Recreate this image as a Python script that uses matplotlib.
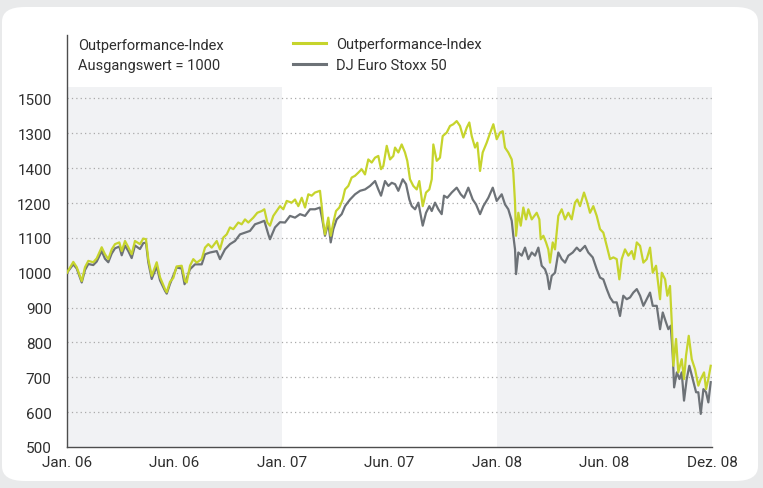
import pandas as pd
import matplotlib.pyplot as plt
from matplotlib.patches import FancyBboxPatch

plt.rcParams['font.family'] = ['Roboto', 'DejaVu Sans']

# days since 1 Jan 2006 and index values
outperf_days = [0, 10.7, 16.5, 25, 30.6, 36.2, 44.6, 50.4, 58.9, 64.5, 70.1, 75.9, 81.5, 88.8, 92.9,
                98.5, 104.1, 109.8, 115.4, 123.9, 129.5, 134.1, 138, 143.8, 152.3, 157.9, 166.4, 169.3,
                174.9, 180.5, 186.1, 194.7, 200.3, 203.2, 208.8, 214.4, 220.2, 228.7, 234.3, 239.9,
                245.7, 254.2, 259.7, 265.4, 271.1, 276.7, 282.3, 290.8, 296.6, 302.2, 307.8, 316.3,
                323.1, 330.6, 335, 340.1, 344.6, 350.2, 356, 361.6, 367.2, 373, 381.5, 387.1, 392.7,
                398.5, 404.1, 409.7, 415.4, 421, 429.5, 432.4, 435.1, 438, 443.6, 447.7, 452.1, 456.7,
                462.3, 468, 472, 477.6, 483.3, 488.9, 494.5, 500.3, 505.9, 511.5, 517.3, 522.9, 528.5,
                533.1, 537, 542.8, 548.4, 554, 556.9, 562.5, 568.2, 573.8, 577.7, 582.3, 587.9, 593.7,
                598.1, 603.9, 609.5, 615.1, 619.2, 621.9, 627.7, 633.2, 637.8, 644.6, 650.2, 655.8,
                661.6, 667.2, 672.8, 678.6, 683, 687.1, 692.7, 696.6, 701.2, 705.7, 712.5, 718.1,
                723.8, 729.5, 735.1, 739.7, 743.6, 749.2, 755, 757.7, 760.6, 762.3, 766.2, 770.3,
                774.7, 779.3, 783.2, 789, 797.4, 801.9, 804.2, 808.7, 813.2, 817.1, 820, 824.6, 828.5,
                834.1, 839.9, 845.5, 851.1, 856.8, 862.4, 866.3, 870.9, 877.7, 883.3, 887.9, 893.5,
                899.3, 904.9, 910.5, 916.3, 921.9, 927.5, 933.2, 937.7, 941.7, 947.3, 953, 958.8,
                962.7, 967.3, 972.9, 978.5, 984.2, 989.8, 994.4, 1000, 1006.8, 1009.7, 1015.4, 1019.2,
                1023.7, 1026.7, 1029.4, 1034, 1037.8, 1043.6, 1047.5, 1050.9, 1055.5, 1060.6, 1066.2,
                1071.8, 1075.9, 1081.5, 1084.9, 1088.8, 1092.8]
outperf_vals = [1000, 1031, 1016, 976, 1016, 1034, 1030, 1041, 1073, 1053, 1039, 1067, 1082, 1087, 1062,
                1091, 1073, 1053, 1091, 1082, 1098, 1096, 1039, 991, 1030, 987, 953, 944,
                974, 985, 1018, 1020, 976, 972, 1020, 1039, 1029, 1039, 1072, 1082,
                1072, 1091, 1067, 1101, 1110, 1130, 1125, 1144, 1139, 1153, 1144, 1158,
                1172, 1177, 1182, 1144, 1135, 1163, 1177, 1191, 1182, 1206, 1201, 1210, 1191,
                1215, 1187, 1225, 1221, 1230, 1235, 1191, 1144, 1110, 1158, 1106, 1144, 1177,
                1187, 1210, 1239, 1249, 1273, 1278, 1287, 1297, 1282, 1325, 1316, 1330, 1335,
                1297, 1306, 1364, 1325, 1335, 1359, 1345, 1368, 1345, 1321, 1268, 1249, 1239,
                1263, 1191, 1230, 1239, 1268, 1368, 1321, 1330, 1392, 1402, 1421, 1426,
                1435, 1421, 1388, 1416, 1431, 1392, 1359, 1373, 1292, 1345, 1373, 1400,
                1426, 1383, 1402, 1406, 1359, 1345, 1325, 1287, 1201, 1106, 1172, 1135,
                1187, 1153, 1182, 1153, 1172, 1153, 1096, 1106, 1087, 1067, 1029, 1087, 1067,
                1163, 1182, 1153, 1172, 1153, 1201, 1210, 1191, 1230, 1201, 1172, 1191,
                1163, 1125, 1115, 1077, 1039, 1044, 1039, 981, 1039, 1067, 1049, 1062,
                1039, 1087, 1077, 1029, 1039, 1072, 1000, 1020, 924, 1000, 981, 934,
                962, 857, 733, 810, 714, 752, 695, 762, 819, 752, 723,
                676, 695, 714, 666, 695, 733]

stoxx_days = [0, 10.7, 16.5, 25, 30.6, 36.2, 44.6, 50.4, 58.9, 64.5, 70.1, 75.9, 81.5, 88.8, 92.9,
              98.5, 104.1, 109.8, 115.4, 123.9, 129.5, 134.1, 138, 143.8, 152.3, 157.9, 166.4, 169.3,
              174.9, 186.1, 194.7, 199.6, 208.8, 217.3, 228.7, 234.3, 242.8, 254.2, 259.7, 268.2,
              276.7, 285.2, 293.7, 302.2, 310.7, 319.2, 327.7, 335, 341.8, 344.6, 353.1, 361.6,
              370.1, 378.6, 387.1, 395.6, 404.1, 412.6, 421, 429.5, 433.4, 438, 443.6, 447.7, 452.1,
              457.8, 466.3, 472, 480.5, 489, 497.5, 506, 514.5, 523, 528.5, 533.1, 539.9, 545.6,
              551.3, 557, 562.5, 570, 575.6, 581.2, 585.3, 590.9, 596.5, 603.9, 609.5, 615.1, 619.2,
              624.8, 630.4, 636.1, 640, 645.6, 653.1, 661.6, 668.4, 674, 681.3, 688.8, 694.4, 701.2,
              706.8, 715.3, 722.8, 729.5, 738, 743.6, 749.2, 755, 757.7, 760.6, 762.3, 766.2, 772,
              777.6, 783.2, 789, 794.6, 800.2, 805.9, 811.5, 815.4, 818.8, 822.9, 828.5, 834.1,
              839.9, 845.5, 851.1, 858.6, 865.4, 870.9, 879.4, 885, 892.5, 899.3, 904.9, 910.5,
              916.3, 921.9, 927.5, 933.2, 938.8, 944.4, 950.2, 955.8, 961.4, 967.3, 972.9, 978.5,
              984.2, 989.8, 994.4, 1001.2, 1006.8, 1011.4, 1017, 1020.9, 1025, 1028.4, 1030.7,
              1035.3, 1039.8, 1043.6, 1047.5, 1052.1, 1056.5, 1062.3, 1068, 1071.8, 1075.9, 1080.4,
              1084.9, 1088.8, 1092.8]
stoxx_vals = [1000, 1024, 1012, 972, 1008, 1025, 1022, 1032, 1062, 1040, 1030, 1055, 1070, 1075, 1050,
              1078, 1062, 1042, 1078, 1068, 1085, 1086, 1030, 982, 1018, 978, 948, 940,
              968, 1015, 1012, 967, 1010, 1024, 1024, 1053, 1058, 1062, 1039, 1067,
              1082, 1091, 1110, 1115, 1120, 1139, 1144, 1149, 1110, 1096, 1130, 1145,
              1144, 1163, 1158, 1168, 1163, 1182, 1182, 1187, 1153, 1106, 1144, 1087, 1125,
              1153, 1168, 1191, 1210, 1225, 1235, 1239, 1249, 1263, 1239, 1221, 1263, 1249,
              1258, 1254, 1235, 1268, 1254, 1210, 1191, 1182, 1201, 1135, 1172, 1191, 1177,
              1201, 1182, 1168, 1221, 1215, 1230, 1244, 1225, 1215, 1244, 1210, 1196, 1168,
              1191, 1215, 1244, 1206, 1225, 1196, 1182, 1149, 1106, 1067, 996, 1058, 1049,
              1072, 1039, 1058, 1049, 1072, 1020, 1010, 991, 953, 991, 1000, 1058,
              1039, 1029, 1049, 1058, 1072, 1062, 1077, 1058, 1044, 1010, 986, 981,
              953, 929, 915, 915, 876, 934, 924, 929, 943, 953, 934, 905,
              924, 943, 905, 905, 838, 886, 857, 838, 848, 762, 671,
              714, 695, 714, 633, 695, 733, 695, 657, 657, 595, 666,
              657, 628, 686]

y_ticks = [500, 600, 700, 800, 900, 1000, 1100, 1200, 1300, 1400, 1500]
y_labels = ['500', '600', '700', '800', '900', '1000', '1100', '1200', '1400', '1300', '1500']
x_ticks = ['2006-01-01', '2006-07-02', '2007-01-01', '2007-07-02', '2008-01-01', '2008-07-01', '2008-12-31']
x_labels = ['Jan. 06', 'Jun. 06', 'Jan. 07', 'Jun. 07', 'Jan. 08', 'Jun. 08', 'Dez. 08']

start = pd.Timestamp('2006-01-01')
outperf_dates = start + pd.to_timedelta(outperf_days, unit='D')
stoxx_dates = start + pd.to_timedelta(stoxx_days, unit='D')

green = '#c6d42c'
grey = '#6d7277'
axis_col = '#4d4d4d'
text_col = '#2e2e2e'

fig = plt.figure(figsize=(7.63, 4.89), dpi=100, facecolor='#e9eaeb')
card = FancyBboxPatch((2 / 763, 7 / 489), 756 / 763, 474 / 489, transform=fig.transFigure,
                      boxstyle='round,pad=0,rounding_size=0.03', facecolor='white', edgecolor='none',
                      zorder=-10)
fig.patches.append(card)

ax = fig.add_axes([67 / 763, 41 / 489, 645 / 763, 412 / 489])
ax.set_facecolor('none')
ax.set_xlim(start, pd.Timestamp('2008-12-31'))
ax.set_ylim(500, 1682)

# shaded years 2006 and 2008
ax.fill_between([pd.Timestamp('2006-01-01'), pd.Timestamp('2007-01-01')], 500, 1533,
                color='#f1f2f4', lw=0, zorder=0)
ax.fill_between([pd.Timestamp('2008-01-01'), pd.Timestamp('2008-12-31')], 500, 1533,
                color='#f1f2f4', lw=0, zorder=0)

for v in y_ticks[1:]:
    ax.axhline(v, color='#aaaaaa', lw=0.9, ls=(0, (1, 2.5)), zorder=1)

ax.plot(outperf_dates, outperf_vals, color=green, lw=1.6, zorder=3, label='Outperformance-Index')
ax.plot(stoxx_dates, stoxx_vals, color=grey, lw=1.6, zorder=2, label='DJ Euro Stoxx 50')

ax.set_yticks(y_ticks)
ax.set_yticklabels(y_labels)
ax.set_xticks(pd.to_datetime(x_ticks))
ax.set_xticklabels(x_labels)
ax.tick_params(axis='both', length=0, labelsize=11, colors=text_col)
ax.tick_params(axis='y', pad=11)
ax.tick_params(axis='x', pad=6)

for s in ['top', 'right']:
    ax.spines[s].set_visible(False)
for s in ['left', 'bottom']:
    ax.spines[s].set_color(axis_col)
    ax.spines[s].set_linewidth(1.0)

ax.text(0.017, 0.992, 'Outperformance-Index\nAusgangswert = 1000', transform=ax.transAxes,
        ha='left', va='top', fontsize=10.5, color=text_col, linespacing=1.5)

leg = ax.legend(loc='upper left', bbox_to_anchor=(0.334, 1.02),
                frameon=False, fontsize=10.5, handlelength=2.3, handletextpad=0.7,
                labelspacing=0.5, borderpad=0.2)
for t in leg.get_texts():
    t.set_color(text_col)
for l in leg.get_lines():
    l.set_linewidth(2.2)

fig.savefig('out.png', dpi=100, facecolor=fig.get_facecolor())
